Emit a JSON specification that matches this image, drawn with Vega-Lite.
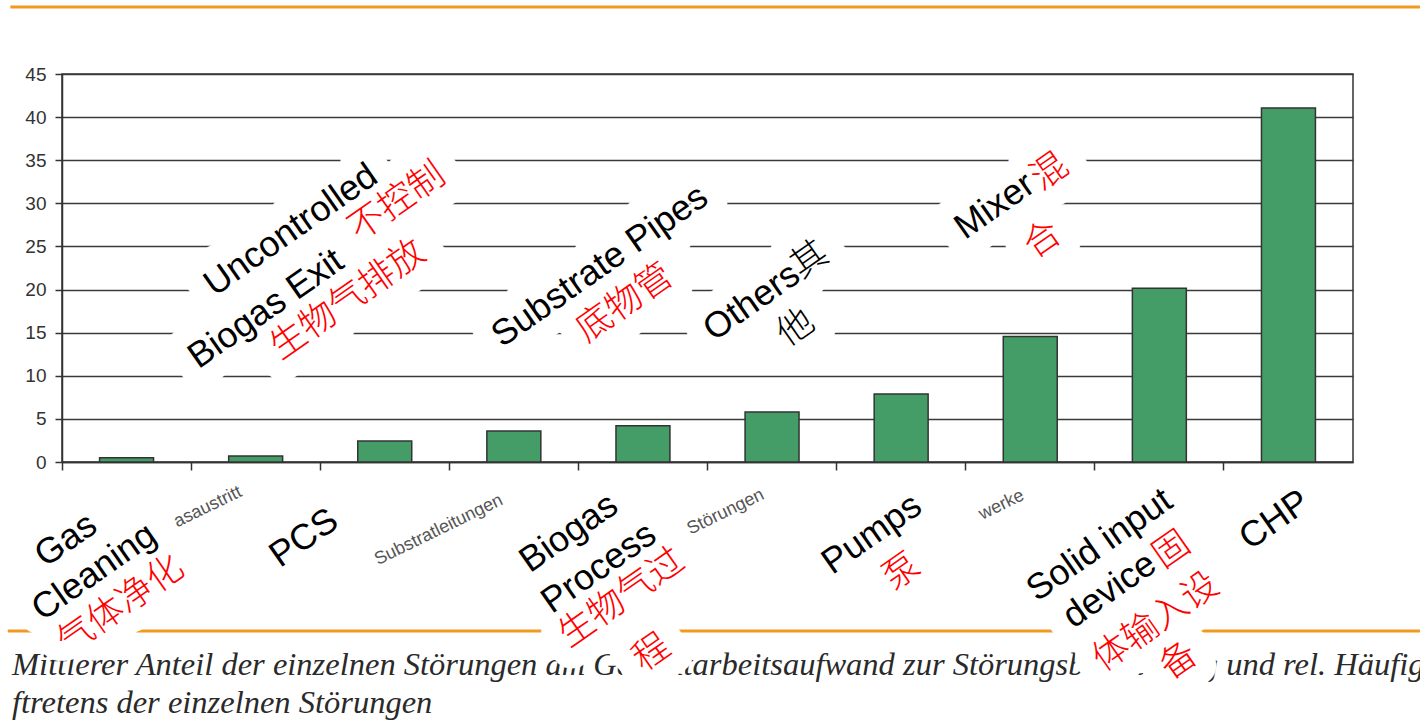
{
  "$schema": "https://vega.github.io/schema/vega-lite/v6.json",
  "width": 1291,
  "height": 388,
  "autosize": {"type": "none"},
  "padding": {"left": 62, "top": 74, "right": 67, "bottom": 261},
  "background": "white",
  "config": {
    "view": {"stroke": "#333333", "strokeWidth": 1.5},
    "font": "Liberation Sans"
  },
  "datasets": {
    "bars": [
      {"cat": "Gas Cleaning", "v": 0.5},
      {"cat": "Uncontrolled Biogas Exit", "v": 0.7},
      {"cat": "PCS", "v": 2.45},
      {"cat": "Substrate Pipes", "v": 3.6},
      {"cat": "Biogas Process", "v": 4.2},
      {"cat": "Others", "v": 5.8},
      {"cat": "Pumps", "v": 7.9},
      {"cat": "Mixer", "v": 14.55},
      {"cat": "Solid input device", "v": 20.15},
      {"cat": "CHP", "v": 41.05}
    ],
    "notes": [
      {"x": 0.031, "y": -9.05, "t": "Gas", "ink": "black"},
      {"x": 0.248, "y": -12.76, "t": "Cleaning", "ink": "black"},
      {"x": 0.457, "y": -16.59, "t": "气体净化", "ink": "red"},
      {"x": 1.874, "y": -8.81, "t": "PCS", "ink": "black"},
      {"x": 3.926, "y": -8.24, "t": "Biogas", "ink": "black"},
      {"x": 4.158, "y": -12.29, "t": "Process", "ink": "black"},
      {"x": 4.336, "y": -15.77, "t": "生物气过", "ink": "red"},
      {"x": 4.568, "y": -22.15, "t": "程", "ink": "red"},
      {"x": 6.272, "y": -8.35, "t": "Pumps", "ink": "black"},
      {"x": 6.504, "y": -12.76, "t": "泵", "ink": "red"},
      {"x": 8.037, "y": -9.63, "t": "Solid input", "ink": "black"},
      {"x": 8.115, "y": -14.85, "t": "device", "ink": "black"},
      {"x": 8.595, "y": -10.21, "t": "固", "ink": "red"},
      {"x": 8.471, "y": -18.56, "t": "体输入设", "ink": "red"},
      {"x": 8.649, "y": -23.08, "t": "备", "ink": "red"},
      {"x": 9.392, "y": -6.73, "t": "CHP", "ink": "black"},
      {"x": 1.773, "y": 26.91, "t": "Uncontrolled", "ink": "black"},
      {"x": 1.58, "y": 17.75, "t": "Biogas Exit", "ink": "black"},
      {"x": 2.594, "y": 30.16, "t": "不控制", "ink": "red"},
      {"x": 2.214, "y": 18.79, "t": "生物气排放", "ink": "red"},
      {"x": 4.166, "y": 22.73, "t": "Substrate Pipes", "ink": "black"},
      {"x": 4.359, "y": 18.44, "t": "底物管", "ink": "red"},
      {"x": 5.343, "y": 18.56, "t": "Others", "ink": "black"},
      {"x": 5.792, "y": 23.43, "t": "其", "ink": "black"},
      {"x": 5.683, "y": 15.54, "t": "他", "ink": "black"},
      {"x": 7.224, "y": 29.69, "t": "Mixer", "ink": "black"},
      {"x": 7.65, "y": 33.63, "t": "混", "ink": "red"},
      {"x": 7.596, "y": 25.75, "t": "合", "ink": "red"}
    ],
    "german": [
      {"x": 1.13, "y": -5.22, "t": "asaustritt"},
      {"x": 2.919, "y": -7.89, "t": "Substratleitungen"},
      {"x": 5.141, "y": -5.8, "t": "Störungen"},
      {"x": 7.278, "y": -4.99, "t": "werke"}
    ],
    "rules": [
      {"x1": -0.4, "x2": 10.52, "y": 52.77},
      {"x1": -0.42, "x2": 10.52, "y": -19.6}
    ],
    "caption": [
      {"x": -0.387, "y": -24.7, "t": "Mittlerer Anteil der einzelnen Störungen am Gesamtarbeitsaufwand zur Störungsbeseitigung und rel. Häufig"},
      {"x": -0.387, "y": -29.1, "t": "ftretens der einzelnen Störungen"}
    ]
  },
  "resolve": {"scale": {"x": "independent", "y": "independent"}},
  "layer": [
    {
      "data": {"name": "bars"},
      "mark": {"type": "bar", "width": {"band": 0.418}, "color": "#449d67", "stroke": "#333333", "strokeWidth": 1.5},
      "encoding": {
        "x": {
          "field": "cat", "type": "nominal", "sort": null,
          "scale": {"paddingInner": 0, "paddingOuter": 0},
          "axis": {"title": null, "labels": false, "bandPosition": 0, "domainColor": "#333333", "domainWidth": 1.5, "tickColor": "#333333", "tickWidth": 1.5, "tickSize": 8, "grid": false}
        },
        "y": {
          "field": "v", "type": "quantitative",
          "scale": {"domain": [0, 45], "nice": false},
          "axis": {"title": null, "values": [0, 5, 10, 15, 20, 25, 30, 35, 40, 45], "labelFont": "Liberation Sans", "labelFontSize": 19, "labelColor": "#333333", "labelPadding": 9, "tickSize": 7, "tickColor": "#333333", "tickWidth": 1.5, "domainColor": "#333333", "domainWidth": 1.5, "grid": true, "gridColor": "#3a3a3a", "gridWidth": 1.5}
        }
      }
    },
    {
      "data": {"name": "german"},
      "mark": {"type": "text", "angle": -26, "align": "center", "baseline": "middle", "font": "Liberation Sans", "fontSize": 18, "color": "#555555"},
      "encoding": {
        "x": {"field": "x", "type": "quantitative", "scale": {"domain": [0, 10], "nice": false, "zero": false}, "axis": null},
        "y": {"field": "y", "type": "quantitative", "scale": {"domain": [0, 45], "nice": false, "zero": false}, "axis": null},
        "text": {"field": "t"}
      }
    },
    {
      "data": {"name": "rules"},
      "mark": {"type": "rule", "color": "#f39a1e", "strokeWidth": 3},
      "encoding": {
        "x": {"field": "x1", "type": "quantitative", "scale": {"domain": [0, 10], "nice": false, "zero": false}, "axis": null},
        "x2": {"field": "x2"},
        "y": {"field": "y", "type": "quantitative", "scale": {"domain": [0, 45], "nice": false, "zero": false}, "axis": null}
      }
    },
    {
      "data": {"name": "caption"},
      "mark": {"type": "text", "align": "left", "baseline": "alphabetic", "font": "Liberation Serif", "fontStyle": "italic", "fontSize": 32.5, "color": "#2a2a2a"},
      "encoding": {
        "x": {"field": "x", "type": "quantitative", "scale": {"domain": [0, 10], "nice": false, "zero": false}, "axis": null},
        "y": {"field": "y", "type": "quantitative", "scale": {"domain": [0, 45], "nice": false, "zero": false}, "axis": null},
        "text": {"field": "t"}
      }
    },
    {
      "data": {"name": "notes"},
      "mark": {"type": "text", "angle": -35, "align": "center", "baseline": "middle", "font": "Liberation Sans, Noto Sans CJK SC", "fontSize": 36, "fill": "white", "stroke": "white", "strokeWidth": 40, "strokeJoin": "round"},
      "encoding": {
        "x": {"field": "x", "type": "quantitative", "scale": {"domain": [0, 10], "nice": false, "zero": false}, "axis": null},
        "y": {"field": "y", "type": "quantitative", "scale": {"domain": [0, 45], "nice": false, "zero": false}, "axis": null},
        "text": {"field": "t"}
      }
    },
    {
      "data": {"name": "notes"},
      "mark": {"type": "text", "angle": -35, "align": "center", "baseline": "middle", "font": "Liberation Sans, Noto Sans CJK SC", "fontSize": 36, "fontWeight": 300},
      "encoding": {
        "x": {"field": "x", "type": "quantitative", "scale": {"domain": [0, 10], "nice": false, "zero": false}, "axis": null},
        "y": {"field": "y", "type": "quantitative", "scale": {"domain": [0, 45], "nice": false, "zero": false}, "axis": null},
        "text": {"field": "t"},
        "color": {"field": "ink", "type": "nominal", "scale": {"domain": ["black", "red"], "range": ["#000000", "#ff0000"]}, "legend": null}
      }
    }
  ]
}
